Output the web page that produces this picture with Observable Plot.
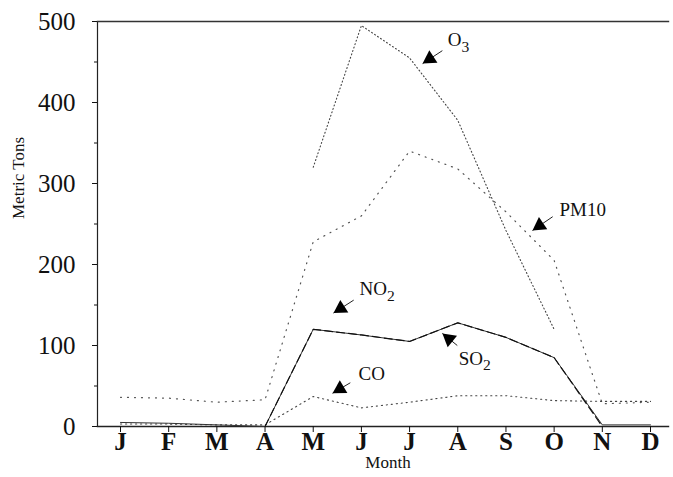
<!DOCTYPE html>
<html><head><meta charset="utf-8">
<script src="https://cdn.jsdelivr.net/npm/d3@7"></script>
<script src="https://cdn.jsdelivr.net/npm/@observablehq/plot@0.6"></script>
<style>
html,body{margin:0;padding:0;background:#fff;}
#chart svg{display:block;}
#chart svg, #chart svg text, #chart svg g {font-family:"Liberation Serif","DejaVu Serif","Times New Roman",serif !important;}
</style></head><body><div id="chart"></div>
<script>
const months = ["J","F","M","A","M","J","J","A","S","O","N","D"];
const o3   = [null,null,null,null,320,495,455,378,242,120,null,null];
const pm10 = [36,35,30,33,228,260,340,318,265,205,28,30];
const no2  = [null,null,null,0,120,113,105,128,110,85,0,null];
const so2  = [5,4,2,0,120,113,105,128,110,85,2,2];
const co   = [3,3,2,2,37,23,30,38,38,32,31,31];
const yTicks = [0,100,200,300,400,500];
const yMinor = [50,150,250,350,450];
const xTitle = "Month";
const yTitle = "Metric Tons";
const labels  = ["O_3","PM10","NO_2","SO_2","CO"];
const labelX  = [6.79, 9.11, 4.96, 7.02, 4.94];
const labelY  = [477, 267, 170, 84, 65];
const arrowX1 = [6.68, 8.97, 4.84, 6.99, 4.77];
const arrowY1 = [464, 259, 156, 100, 54];
const arrowX2 = [6.27, 8.55, 4.42, 6.68, 4.40];
const arrowY2 = [448, 242, 140, 115, 41];

const W = 673, H = 477, mL = 97, mR = 5, mT = 21, mB = 51;
const xRange = [120, 650];
const kx = (xRange[1]-xRange[0]) / (months.length-1);
const ky = (H - mB - mT) / 500;
const serif = "Liberation Serif";

const series = [
  {name:"O3", vals:o3, stroke:"#444", dash:"1,2.6", w:1.1},
  {name:"PM10", vals:pm10, stroke:"#555", dash:"1,6", w:1.2},
  {name:"CO", vals:co, stroke:"#444", dash:"1.2,3.8", w:1.1},
  {name:"SO2", vals:so2, stroke:"#333", dash:null, w:1},
  {name:"NO2", vals:no2, stroke:"#111", dash:"8,4", w:1.2}
];
const lineMarks = series.map(s => Plot.line(
  s.vals.map((v,i)=>({i, v})),
  {x:"i", y:"v", stroke:s.stroke, strokeWidth:s.w, strokeDasharray:s.dash || undefined}
));

const ann = labels.map((t,k)=>({t, lx:labelX[k], ly:labelY[k], x1:arrowX1[k], y1:arrowY1[k], x2:arrowX2[k], y2:arrowY2[k]}));
const headLen = 8.6;
const heads = ann.map(a => {
  const dxs = (a.x2-a.x1)*kx, dys = -(a.y2-a.y1)*ky;
  const th = Math.atan2(dys, dxs);
  return {
    x: a.x2 - headLen*Math.cos(th)/kx,
    y: a.y2 + headLen*Math.sin(th)/ky,
    rot: th*180/Math.PI + 90
  };
});

const chart = Plot.plot({
  width: W, height: H, marginLeft: mL, marginRight: mR, marginTop: mT, marginBottom: mB,
  style: {fontFamily: serif, background: "#fff", color: "#111"},
  x: {domain: [0, months.length-1], range: xRange},
  y: {domain: [0, 500]},
  marks: [
    Plot.frame({anchor: "left", stroke: "#222", strokeWidth: 1.2}),
    Plot.frame({anchor: "bottom", stroke: "#222", strokeWidth: 1.4}),
    Plot.frame({anchor: "top", stroke: "#333", strokeWidth: 1.4}),
    Plot.axisY({ticks: yMinor, tickSize: 3, text: null, label: null}),
    Plot.axisY({ticks: yTicks, tickSize: 5, tickPadding: 17, fontSize: 25, fontFamily: serif, label: null}),
    Plot.axisX({ticks: d3.range(months.length), tickFormat: i => months[i], tickSize: 6, tickPadding: 0, fontSize: 25, fontWeight: "bold", fontFamily: serif, label: null}),
    ...lineMarks,
    Plot.link(ann, {x1: "x1", y1: "y1", x2: "x2", y2: "y2", stroke: "#222", strokeWidth: 1}),
    Plot.dot(heads, {x: "x", y: "y", rotate: "rot", symbol: "triangle", r: 5.5, fill: "#000", stroke: "none"}),
    Plot.text(ann, {x: "lx", y: "ly", text: "t", textAnchor: "start", fontSize: 19, fontFamily: serif, fill: "#111"}),
    Plot.text([xTitle], {text: d => d, frameAnchor: "bottom", dy: 41, dx: 5, fontSize: 17, fontFamily: serif, fill: "#111"}),
    Plot.text([yTitle], {text: d => d, frameAnchor: "left", rotate: -90, dx: -79, dy: -5, fontSize: 17, fontFamily: serif, fill: "#111"})
  ]
});

chart.querySelectorAll("text").forEach(t => {
  const s = t.textContent;
  if (s.includes("_") && t.children.length === 0) {
    const [base, sub] = s.split("_");
    t.textContent = "";
    const ns = "http://www.w3.org/2000/svg";
    const a = document.createElementNS(ns, "tspan"); a.textContent = base;
    const b = document.createElementNS(ns, "tspan"); b.textContent = sub;
    b.setAttribute("dy", "0.38em"); b.setAttribute("font-size", "82%");
    t.appendChild(a); t.appendChild(b);
  }
});
document.getElementById("chart").appendChild(chart);
</script></body></html>
